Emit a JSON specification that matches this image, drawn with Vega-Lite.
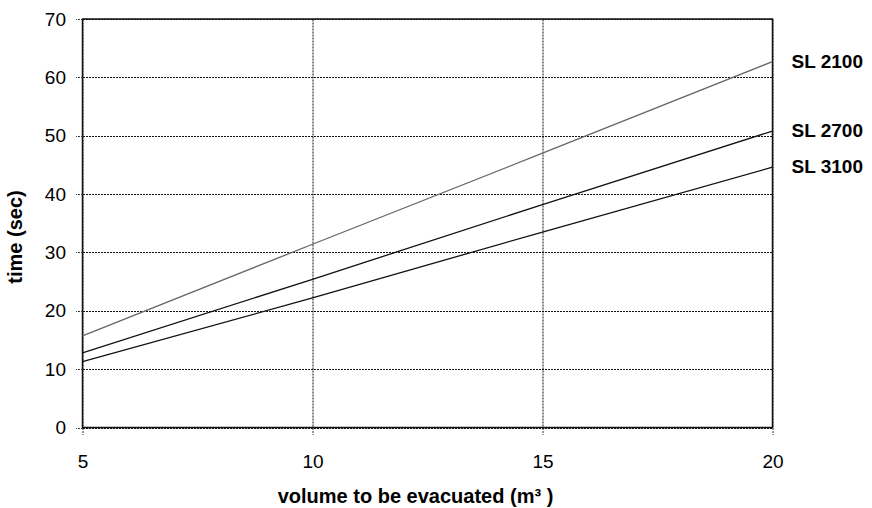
{
  "$schema": "https://vega.github.io/schema/vega-lite/v6.json",
  "autosize": "none",
  "padding": {"left": 82.5, "top": 19, "right": 99.5, "bottom": 80.5},
  "width": 690,
  "height": 408.5,
  "background": "#ffffff",
  "config": {
    "font": "Liberation Sans",
    "view": {"stroke": "#111", "strokeWidth": 1.5},
    "axis": {
      "labelFont": "Liberation Sans",
      "titleFont": "Liberation Sans",
      "labelColor": "#000",
      "titleColor": "#000",
      "labelFontSize": 19,
      "titleFontSize": 20,
      "titleFontWeight": "bold",
      "domain": false,
      "labelFlush": false,
      "labelOverlap": false,
      "tickColor": "#333",
      "tickSize": 7,
      "tickDash": [2, 1],
      "gridColor": "#111",
      "gridDash": [2, 1],
      "gridWidth": 1
    }
  },
  "data": {
    "values": [
      {"series": "SL 2100", "volume": 5, "time": 15.7},
      {"series": "SL 2100", "volume": 10, "time": 31.4},
      {"series": "SL 2100", "volume": 15, "time": 47.0},
      {"series": "SL 2100", "volume": 20, "time": 62.7},
      {"series": "SL 2700", "volume": 5, "time": 12.8},
      {"series": "SL 2700", "volume": 10, "time": 25.4},
      {"series": "SL 2700", "volume": 15, "time": 38.2},
      {"series": "SL 2700", "volume": 20, "time": 50.8},
      {"series": "SL 3100", "volume": 5, "time": 11.3},
      {"series": "SL 3100", "volume": 10, "time": 22.2},
      {"series": "SL 3100", "volume": 15, "time": 33.5},
      {"series": "SL 3100", "volume": 20, "time": 44.6}
    ]
  },
  "encoding": {
    "x": {
      "field": "volume",
      "type": "quantitative",
      "scale": {"domain": [5, 20], "nice": false, "zero": false},
      "axis": {
        "values": [5, 10, 15, 20],
        "title": "volume to be evacuated (m³ )",
        "labelPadding": 18,
        "labelBaseline": "top",
        "titleX": 332.5,
        "titleY": 75,
        "titleBaseline": "alphabetic"
      }
    },
    "y": {
      "field": "time",
      "type": "quantitative",
      "scale": {"domain": [0, 70], "nice": false},
      "axis": {
        "values": [0, 10, 20, 30, 40, 50, 60, 70],
        "title": "time (sec)",
        "labelPadding": 10,
        "titleX": -57,
        "titleY": 217.5,
        "titleAngle": -90,
        "titleBaseline": "bottom"
      }
    },
    "color": {
      "field": "series",
      "type": "nominal",
      "scale": {"domain": ["SL 2100", "SL 2700", "SL 3100"], "range": ["#666666", "#111111", "#111111"]},
      "legend": null
    }
  },
  "layer": [
    {
      "mark": {"type": "line", "strokeWidth": 1.3}
    },
    {
      "transform": [{"filter": "datum.volume == 20"}],
      "mark": {"type": "text", "align": "left", "baseline": "middle", "dx": 19, "fontSize": 19, "fontWeight": "bold", "font": "Liberation Sans", "color": "#000"},
      "encoding": {
        "text": {"field": "series"},
        "color": {"value": "#000"}
      }
    }
  ]
}
